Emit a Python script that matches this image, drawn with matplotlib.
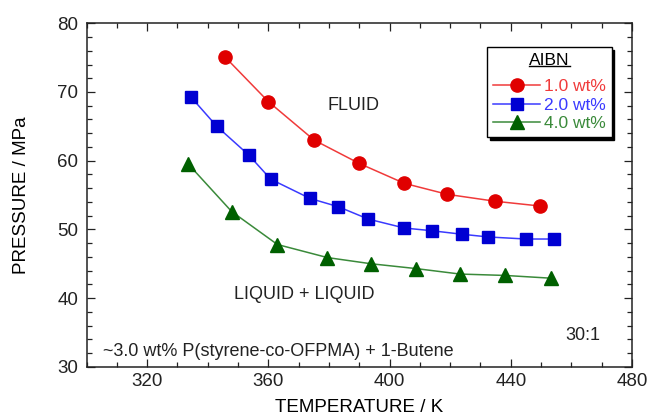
import matplotlib
matplotlib.use("Agg")
import matplotlib.pyplot as plt
from matplotlib.ticker import MultipleLocator
from matplotlib.lines import Line2D

plt.rcParams['font.family'] = ['Liberation Sans', 'DejaVu Sans']

# ---- data ----
temp_10 = [345.7, 360.0, 375.1, 390.0, 404.9, 419.1, 434.8, 449.7]
pres_10 = [75.1, 68.6, 63.0, 59.6, 56.7, 55.1, 54.1, 53.4]

temp_20 = [334.4, 343.0, 353.6, 360.8, 373.8, 383.1, 393.0, 404.9, 414.1, 423.8, 432.6, 445.0, 454.1]
pres_20 = [69.3, 65.0, 60.8, 57.3, 54.5, 53.3, 51.5, 50.2, 49.8, 49.3, 48.9, 48.6, 48.6]

temp_40 = [333.6, 347.9, 363.0, 379.5, 393.9, 408.7, 423.3, 438.1, 453.2]
pres_40 = [59.5, 52.6, 47.8, 45.9, 45.0, 44.3, 43.5, 43.3, 42.9]

labels = ['1.0 wt%', '2.0 wt%', '4.0 wt%']
x_ticks = [320, 360, 400, 440, 480]
y_ticks = [30, 40, 50, 60, 70, 80]

fig = plt.figure(figsize=(6.48, 4.15), dpi=100)
ax = fig.add_axes([0.1335, 0.1161, 0.8418, 0.8278])

series = [
    (temp_10, pres_10, labels[0], 'o', '#f03a3a', '#e00000', 9.5),
    (temp_20, pres_20, labels[1], 's', '#3a3aff', '#0000d2', 9.0),
    (temp_40, pres_40, labels[2], '^', '#3a8a3a', '#006000', 10.0),
]
for t, p, lab, m, lc, mc, ms in series:
    ax.plot(t, p, '-', color=lc, lw=1.1, marker=m, ms=ms,
            markerfacecolor=mc, markeredgecolor=mc, label=lab)

ax.set_xlim(300, 480)
ax.set_ylim(30, 80)
ax.set_xticks(x_ticks)
ax.set_yticks(y_ticks)
ax.xaxis.set_minor_locator(MultipleLocator(10))
ax.yaxis.set_minor_locator(MultipleLocator(2))
ax.tick_params(which='both', direction='in', top=True, right=True, width=0.9,
               colors='#222222', labelsize=13.5)
ax.tick_params(which='major', length=6)
ax.tick_params(which='minor', length=3.5)
ax.tick_params(axis='x', pad=4.5)
ax.tick_params(axis='y', pad=6)
for s in ax.spines.values():
    s.set_linewidth(1.1)
    s.set_color('#222222')

ax.set_xlabel('TEMPERATURE / K', fontsize=13.5)
ax.set_ylabel('PRESSURE / MPa', fontsize=13.5)
ax.xaxis.set_label_coords(0.5, -0.094)
ax.yaxis.set_label_coords(-0.1045, 0.5)

ax.text(388, 68.1, 'FLUID', fontsize=13, ha='center', va='center', color='#222222')
ax.text(372, 40.5, 'LIQUID + LIQUID', fontsize=13, ha='center', va='center', color='#222222')
ax.text(305.6, 32.3, '~3.0 wt% P(styrene-co-OFPMA) + 1-Butene', fontsize=13,
        ha='left', va='center', color='#222222')
ax.text(469.5, 34.6, '30:1', fontsize=13, ha='right', va='center', color='#222222')

leg = ax.legend(title='AIBN', loc='upper left', bbox_to_anchor=(0.7347, 0.930),
                borderaxespad=0, fontsize=12.5, title_fontsize=12.5,
                handlelength=2.7, handletextpad=0.2, labelspacing=0.2,
                borderpad=0.35, fancybox=False, labelcolor='linecolor',
                shadow={'color': 'black', 'alpha': 1.0})
leg.get_frame().set_edgecolor('black')
leg.get_frame().set_linewidth(1.0)
leg.get_frame().set_alpha(1.0)
leg._legend_box.sep = 7.5

fig.canvas.draw()
bb = leg.get_title().get_window_extent()
inv = fig.transFigure.inverted()
(x0, y0), (x1, y1) = inv.transform([(bb.x0, bb.y0 + 2), (bb.x1, bb.y0 + 2)])
fig.add_artist(Line2D([x0, x1], [y0, y1], color='black', lw=1.0))

fig.savefig('out.png', dpi=100)
